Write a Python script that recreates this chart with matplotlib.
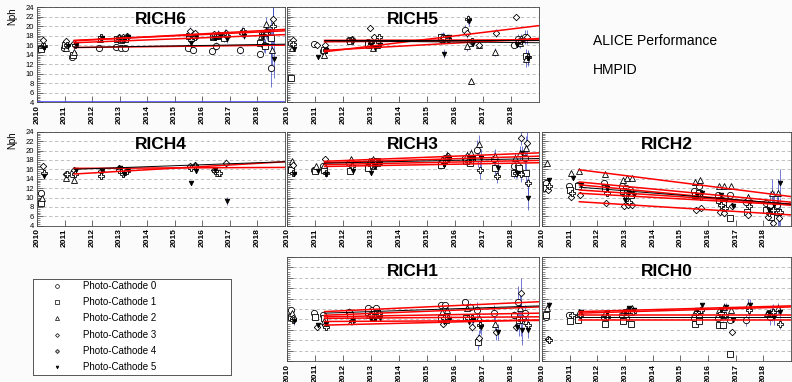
import numpy as np
import matplotlib.pyplot as plt
from matplotlib.ticker import MultipleLocator

plt.rcParams['font.family'] = ['Liberation Sans', 'DejaVu Sans']

nan = np.nan

# run periods (years), shared by all chambers
dates = np.array([2010.2, 2011.05, 2011.35, 2012.3, 2012.95, 2013.1, 2013.25, 2015.55,
                  2015.72, 2016.42, 2016.58, 2016.85, 2017.45, 2018.15, 2018.32, 2018.55])

cathodes = ["Photo-Cathode 0", "Photo-Cathode 1", "Photo-Cathode 2",
            "Photo-Cathode 3", "Photo-Cathode 4", "Photo-Cathode 5"]

years = list(range(2010, 2019))

# Nph per cathode (rows) and run period (columns)
rich6 = [[15.5, 15.3, 13.5, 15.5, 15.6, 15.5, 15.5, 15.5, 15.0, 14.8, 15.8, nan, 15.0, 14.1, 16.0, 11.3],
         [15.2, 16.0, 14.0, nan, 17.2, 17.0, 17.3, 18.0, 18.3, 17.8, 18.0, 17.5, nan, 16.5, 15.8, 17.5],
         [16.0, 15.5, 14.5, 17.2, 17.5, 17.2, 17.8, 18.5, 18.0, 18.0, 18.3, 18.5, 19.0, 18.0, 20.5, 15.0],
         [17.0, 16.8, 16.5, nan, 17.8, 17.6, 18.0, 19.0, 18.5, 18.3, 18.0, 18.5, 18.5, 18.5, 19.0, 21.5],
         [15.8, 16.0, 16.0, 17.6, 17.5, 17.3, 17.8, 17.0, 17.8, 17.8, 18.2, 18.0, 19.0, 18.2, 18.5, 20.0],
         [15.5, 15.8, 16.0, 17.5, 17.3, 17.0, 17.8, 16.5, 18.0, 17.5, 18.0, 17.3, 18.0, 18.0, 19.0, 13.0]]
rich6_err = [0.3, 0.3, 0.4, 0.3, 0.3, 0.3, 0.3, 0.8, 0.6, 0.5, 0.8, 0.8, 0.8, 0.6, 1.5, 4.0]
rich6_fit = [(15.5, 16.0, 'red'), (16.5, 18.2, 'red'), (17.0, 19.0, 'red'),
             (16.9, 19.3, 'red'), (15.5, 16.2, 'black')]

rich5 = [[16.5, 16.2, 14.8, 17.0, 16.7, 16.0, 16.2, 17.3, 17.5, 19.2, 16.6, nan, nan, 16.1, 17.3, 17.7],
         [9.0, nan, 15.0, 16.8, 16.2, 16.0, 16.0, 17.6, 17.2, nan, 16.4, nan, nan, nan, 16.7, 13.7],
         [15.4, nan, 14.0, nan, 16.0, 15.5, 16.2, 17.6, 17.0, 15.8, 8.5, 16.0, 14.5, nan, 16.5, 13.0],
         [17.0, 16.0, 16.0, 17.3, 19.5, 17.8, 16.5, 17.8, 17.5, 18.5, 16.6, 16.0, 18.5, 22.0, 17.3, 17.7],
         [16.2, nan, 15.0, 17.0, 16.5, 16.2, 17.8, 17.5, 17.3, 21.4, 16.8, nan, nan, nan, 16.8, 13.5],
         [15.2, 13.6, 14.9, 16.8, 16.0, 15.3, 16.0, 14.2, 17.8, 21.0, 16.4, nan, nan, 16.1, 16.8, 13.2]]
rich5_err = [0.3, 0.3, 0.3, 0.4, 0.3, 0.3, 0.3, 1.0, 0.4, 1.0, 0.6, 0.3, 0.8, 0.4, 1.0, 1.5]
rich5_fit = [(14.6, 20.1, 'red'), (17.0, 17.1, 'red'), (16.7, 17.0, 'red'),
             (14.9, 17.4, 'red'), (17.0, 17.0, 'black'), (16.9, 16.5, 'black')]

rich4 = [[10.9, nan, 14.9, nan, nan, nan, nan, nan, nan, nan, nan, nan, nan, nan, nan, nan],
         [8.8, nan, nan, nan, nan, nan, nan, nan, nan, nan, nan, nan, nan, nan, nan, nan],
         [9.9, 14.1, 13.8, nan, nan, nan, nan, nan, nan, nan, 15.2, nan, nan, nan, nan, nan],
         [16.6, 14.9, 15.9, 15.6, 16.3, nan, 15.9, 16.6, 17.0, 15.9, nan, 17.4, nan, nan, nan, nan],
         [15.2, 14.9, 14.9, 14.5, 15.9, 14.9, 15.6, 16.3, 16.6, 15.6, 15.2, nan, nan, nan, nan, nan],
         [14.5, nan, 15.9, 15.6, 16.3, 14.9, 15.9, 13.1, 15.6, 15.9, nan, 9.3, nan, nan, nan, nan]]
rich4_err = [0.5, 0.4, 0.4, 0.4, 0.3, 0.3, 0.3, 0.4, 0.4, 0.3, 0.3, 0.8, 0.3, 0.3, 0.3, 0.3]
rich4_fit = [(16.2, 16.4, 'red'), (15.0, 17.6, 'red'), (16.0, 17.6, 'black')]

rich3 = [[16.3, 15.9, 16.6, 17.4, 16.6, 17.7, 17.4, 17.4, 18.4, 18.4, 18.4, 20.2, 18.1, 16.6, 16.6, 18.4],
         [15.9, 15.6, 15.9, 15.6, 16.3, 16.6, 17.7, 17.0, 18.1, 17.7, 17.4, 18.4, 16.3, 15.2, 16.3, 15.2],
         [17.7, 16.6, 17.0, 18.1, 17.7, 18.1, 17.7, 18.1, 19.1, 19.1, 19.5, 21.3, 18.8, 18.4, 19.5, 20.6],
         [17.0, nan, 18.1, nan, 17.4, 17.0, nan, nan, 18.8, nan, nan, nan, nan, nan, 22.7, 21.6],
         [15.2, nan, 15.2, 16.6, 17.0, 17.7, 17.4, 17.4, 18.4, 17.7, 18.4, 15.9, 14.5, 15.2, 14.9, 13.1],
         [14.9, 15.6, 14.9, 15.6, 15.2, 16.6, 17.4, 17.0, 18.1, 18.4, 18.4, 18.4, 16.3, 15.2, 19.5, 9.9]]
rich3_err = [0.4, 0.4, 0.5, 0.6, 0.4, 0.4, 0.4, 0.4, 0.5, 0.8, 0.8, 2.0, 1.5, 1.0, 1.5, 2.5]
rich3_fit = [(17.7, 19.5, 'red'), (17.4, 18.8, 'red'), (17.0, 17.9, 'red'),
             (16.6, 17.4, 'red'), (17.3, 18.3, 'black')]

rich2 = [[13.1, 12.4, 12.7, 13.1, 12.4, 12.0, 11.6, 11.3, 12.4, 10.6, 9.5, 10.6, 9.1, 8.8, 8.4, 8.4],
         [12.0, 11.6, 12.4, 12.0, 11.3, 10.9, 10.6, 10.6, 10.9, 9.5, 8.8, 5.6, 7.0, 7.4, 5.9, 7.0],
         [17.4, 15.2, 15.6, 14.9, 13.8, 14.1, 14.1, 13.4, 13.8, 12.4, 12.4, 12.4, 10.2, nan, 10.9, 10.9],
         [11.7, 10.2, 10.6, 8.8, 8.1, 8.4, 8.4, 7.4, 7.7, 7.0, 6.6, 8.1, 6.3, 5.9, 4.5, 5.6],
         [12.4, 10.9, nan, 10.9, 10.6, 9.1, nan, nan, 10.2, 8.4, 7.7, nan, 8.1, 6.6, 7.4, 7.0],
         [13.8, 14.1, 12.7, 12.0, 9.5, 10.9, 10.6, 10.6, 10.9, 10.6, 9.5, 8.1, 9.1, 7.4, 8.4, 13.1]]
rich2_err = [0.4, 0.3, 0.3, 0.4, 0.3, 0.3, 0.3, 0.3, 0.4, 0.4, 0.4, 0.5, 0.6, 0.5, 3.0, 3.0]
rich2_fit = [(15.9, 10.2, 'red'), (13.3, 9.0, 'red'), (12.7, 8.4, 'red'),
             (11.6, 8.6, 'red'), (10.9, 8.4, 'red'), (9.1, 6.3, 'red'), (12.2, 8.6, 'black')]

rich1 = [[13.8, 13.2, 12.8, 13.5, 14.1, 13.8, 14.1, 14.8, 14.8, 15.4, 14.4, 13.8, 13.2, 12.8, 15.4, 13.2],
         [12.5, 12.5, 12.2, 12.8, 13.5, 12.5, 13.2, 12.2, 11.9, 12.2, nan, 7.7, nan, nan, 11.9, nan],
         [13.2, nan, 11.6, 11.6, 12.8, nan, 12.2, 13.5, 13.8, 14.1, nan, 12.2, 11.2, nan, 14.1, 11.6],
         [12.2, 10.6, 10.9, nan, nan, nan, nan, 11.2, nan, nan, 10.6, 8.4, 9.6, 10.6, 17.0, nan],
         [11.9, nan, 10.6, 11.6, 12.8, 12.5, 13.2, 12.2, 12.2, 12.2, 12.2, 10.9, nan, nan, 11.9, 10.9],
         [11.6, 11.0, 11.2, 11.8, 12.0, 12.0, 12.2, 11.5, 12.0, 11.5, 11.8, 10.5, 9.6, 10.6, 10.0, 10.0]]
rich1_err = [0.6, 0.4, 0.4, 0.6, 0.4, 0.4, 0.4, 0.4, 0.4, 0.5, 0.8, 1.5, 1.5, 0.8, 3.0, 1.5]
rich1_fit = [(13.5, 15.4, 'red'), (12.8, 14.4, 'red'), (12.5, 13.2, 'red'),
             (12.2, 12.5, 'red'), (11.6, 11.8, 'red'), (10.9, 11.9, 'red'), (13.2, 14.6, 'black')]

rich0 = [[12.5, 12.8, 12.5, 12.5, 12.8, 12.2, 13.5, 12.2, 12.5, 12.2, 12.8, 11.9, 11.9, nan, 12.5, nan],
         [12.8, 11.6, 11.9, 11.2, 11.6, nan, 11.2, 11.2, 11.6, 10.9, 10.9, 5.3, nan, nan, nan, nan],
         [14.1, nan, 13.5, 13.2, 13.5, 13.8, 14.1, 13.5, 13.8, 13.8, 14.4, 13.8, 14.8, 13.2, 13.2, 14.1],
         [8.2, nan, nan, nan, nan, nan, nan, nan, nan, nan, nan, 9.6, nan, nan, nan, nan],
         [8.0, 12.8, 12.8, 12.5, 13.5, 13.8, 13.5, 13.5, 13.8, 13.2, 12.8, nan, 13.8, 13.2, 13.5, 11.2],
         [14.8, nan, 13.5, 13.2, 13.5, 14.1, 13.8, 13.8, 14.8, 13.8, 14.4, 11.9, 14.8, 13.2, 12.5, 13.5]]
rich0_err = [0.6, 0.3, 0.4, 0.3, 0.3, 0.3, 0.3, 0.3, 0.4, 0.4, 0.8, 0.4, 1.2, 0.4, 1.5, 1.0]
rich0_fit = [(13.5, 14.6, 'red'), (13.2, 14.4, 'red'), (12.8, 12.8, 'red'),
             (11.9, 11.9, 'red'), (12.5, 12.5, 'black')]

fit_range = (2011.35, 2019.0)

# ROOT-like marker styles for the six photo-cathodes
markers = ['o', 's', '^', 'D', 'P', 'v']
msizes = [4.5, 4.2, 4.8, 3.3, 4.2, 3.3]
faces = ['white', 'white', 'white', 'white', 'white', 'black']

W, H = 792, 382
fig = plt.figure(figsize=(W / 100, H / 100), dpi=100, facecolor='#fbfbfb')


def pos(x0, x1, y0, y1):
    return [x0 / W, 1 - y1 / H, (x1 - x0) / W, (y1 - y0) / H]


cols = [(37, 284.7), (286.7, 539.3), (542, 791)]
rows = [(7, 102.3), (131.7, 225.7), (257, 361)]

panels = [("RICH6", rich6, rich6_err, rich6_fit, 0, 0),
          ("RICH5", rich5, rich5_err, rich5_fit, 0, 1),
          ("RICH4", rich4, rich4_err, rich4_fit, 1, 0),
          ("RICH3", rich3, rich3_err, rich3_fit, 1, 1),
          ("RICH2", rich2, rich2_err, rich2_fit, 1, 2),
          ("RICH1", rich1, rich1_err, rich1_fit, 2, 1),
          ("RICH0", rich0, rich0_err, rich0_fit, 2, 2)]

for name, vals, err, fits, r, c in panels:
    ax = fig.add_axes(pos(cols[c][0], cols[c][1], rows[r][0], rows[r][1]))
    ax.set_facecolor('white')
    ax.set_xlim(2010, 2019)
    ax.set_ylim(4, 24)
    ax.yaxis.set_major_locator(MultipleLocator(2))
    ax.yaxis.set_minor_locator(MultipleLocator(0.4))
    ax.set_xticks(years)
    ax.set_xticklabels([str(y) for y in years])
    ax.grid(axis='y', color='#b5b5b5', linestyle=(0, (4, 3)), linewidth=0.6)
    ax.set_axisbelow(True)
    ax.tick_params(axis='both', which='major', direction='in', length=4, width=0.6, color='#555555')
    ax.tick_params(axis='y', which='minor', direction='in', length=2, width=0.5, color='#555555')
    ax.tick_params(axis='x', labelrotation=90, labelsize=6, pad=2)
    ax.tick_params(axis='y', labelsize=5.5, pad=2)
    for lab in ax.get_xticklabels():
        lab.set_fontweight('bold')
    if c != 0:
        ax.set_yticklabels([])
    else:
        ax.set_ylabel("Nph", fontsize=7, loc='top', labelpad=6)
    for sp in ax.spines.values():
        sp.set_linewidth(0.6)
        sp.set_color('#444444')

    for k in range(6):
        off = (k - 2.5) * 0.025
        ax.errorbar(dates + off, vals[k], yerr=err, fmt=markers[k], ms=msizes[k],
                    mfc=faces[k], mec='black', mew=0.6,
                    ecolor=(0.2, 0.25, 0.75, 0.7), elinewidth=0.7, capsize=0)

    for y0, y1, col in fits:
        ax.plot(fit_range, [y0, y1], color=col, lw=1.1 if col == 'red' else 0.7, zorder=4)

    if name == "RICH6":
        ax.axhline(4, color='#4a4aff', lw=1.2, zorder=5)

    ax.text(0.5, 0.865, name, transform=ax.transAxes, ha='center', va='center',
            fontsize=12.5, fontweight='bold')

# legend box
leg = fig.add_axes(pos(33, 231, 279, 375))
leg.set_xlim(0, 1)
leg.set_ylim(0, 1)
leg.set_xticks([])
leg.set_yticks([])
leg.set_facecolor('white')
for sp in leg.spines.values():
    sp.set_linewidth(0.7)
    sp.set_color('#555555')
for i, lab in enumerate(cathodes):
    y = 0.927 - i * 0.169
    leg.plot([0.121], [y], markers[i], ms=msizes[i] * 0.6, mfc=faces[i], mec='black', mew=0.5)
    leg.text(0.253, y, lab, fontsize=7, va='center', ha='left')

fig.text(593 / W, 1 - 41 / H, "ALICE Performance", fontsize=10, va='center', ha='left')
fig.text(593 / W, 1 - 70 / H, "HMPID", fontsize=10, va='center', ha='left')

fig.savefig("out.png", dpi=100, facecolor=fig.get_facecolor())
